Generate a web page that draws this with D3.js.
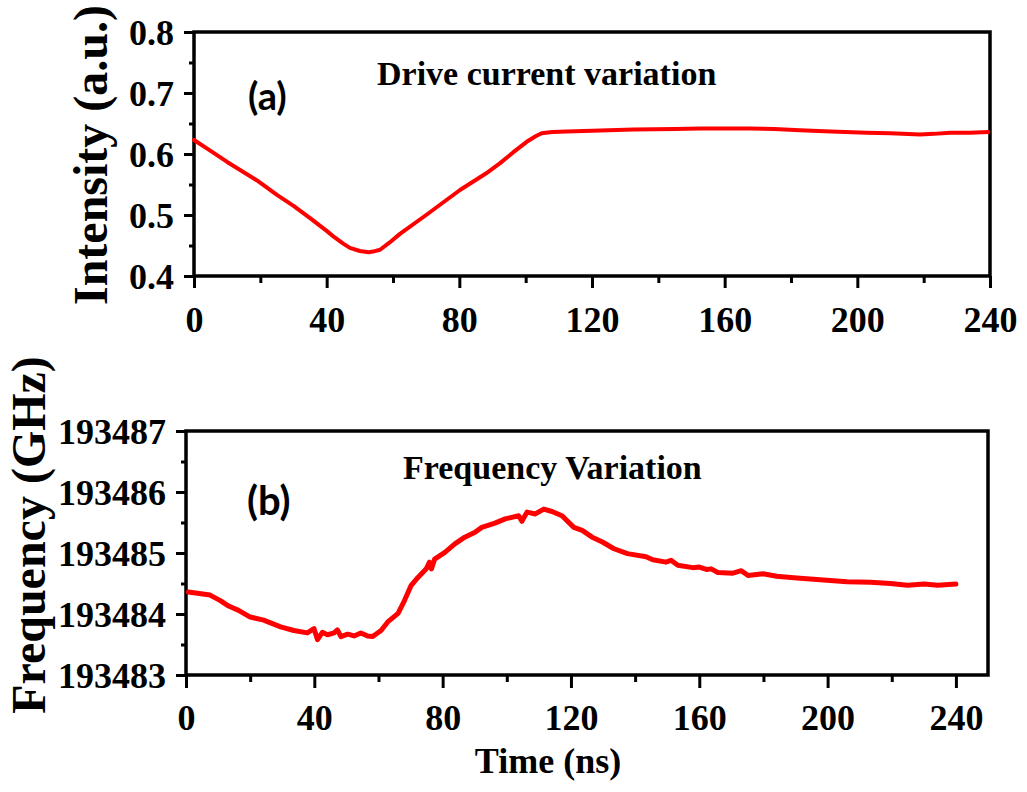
<!DOCTYPE html>
<html><head><meta charset="utf-8">
<script src="https://cdn.jsdelivr.net/npm/d3@7"></script>
<style>body{margin:0;background:#fff}svg{display:block}</style>
</head><body>
<svg id="c" width="1027" height="792"></svg>
<script>
// Panel (a): intensity vs time
const intTime = [0,5,10,18.9,25,30,35,40,42,45,47,50,52.6,54,56.1,59,62.1,70,80.2,88,92.3,96.3,100.3,103,104.8,108,112.4,120,132.5,145,152.5,160,167.6,175,182.7,192,202.8,210,218.9,223,228,234,239.5];
const intValues = [0.623,0.605,0.587,0.557,0.533,0.515,0.495,0.474,0.465,0.453,0.446,0.441,0.439,0.440,0.443,0.455,0.469,0.500,0.541,0.568,0.585,0.603,0.620,0.629,0.634,0.636,0.637,0.638,0.640,0.641,0.642,0.642,0.642,0.641,0.639,0.637,0.635,0.634,0.632,0.633,0.635,0.635,0.636];
const intXTicks = [0,40,80,120,160,200,240];
const intYTicks = [0.4,0.5,0.6,0.7,0.8];

// Panel (b): frequency vs time
const freqTime = [0.7,7.5,10.7,13.3,16.4,20,24.2,29.5,33.6,37.8,39.9,41,42.5,44.1,46.2,47.2,48.3,50.4,52.4,54.5,56.6,58.2,60.8,62.9,66.1,68.1,70.2,72.3,74.9,75.9,76.5,77.5,80.7,83.8,86.9,90.1,92.2,96.3,99.5,103.7,104.7,106.3,108.9,111.5,114.1,117.2,120.9,123.5,126.6,129.8,133.4,137.6,143.4,145.5,149.6,151.2,153.3,158,160,162.2,163.7,165.8,170.5,173.1,175.2,179.9,184.1,190.4,195.6,200.8,206,213.4,219.6,224.9,230.1,234.3,240];
const freqValues = [193484.36,193484.31,193484.22,193484.13,193484.06,193483.95,193483.90,193483.79,193483.73,193483.69,193483.76,193483.58,193483.70,193483.66,193483.69,193483.74,193483.63,193483.67,193483.64,193483.69,193483.64,193483.63,193483.73,193483.87,193484.01,193484.22,193484.47,193484.60,193484.74,193484.85,193484.74,193484.90,193485.01,193485.15,193485.26,193485.34,193485.42,193485.49,193485.56,193485.61,193485.52,193485.67,193485.64,193485.72,193485.68,193485.61,193485.42,193485.37,193485.26,193485.18,193485.07,193484.99,193484.94,193484.89,193484.85,193484.88,193484.80,193484.76,193484.77,193484.73,193484.74,193484.68,193484.67,193484.71,193484.63,193484.66,193484.62,193484.59,193484.57,193484.55,193484.53,193484.52,193484.50,193484.47,193484.49,193484.47,193484.49];
const freqXTicks = [0,40,80,120,160,200,240];
const freqYTicks = [193483,193484,193485,193486,193487];

const svg = d3.select("#c");
const SERIF = "'Liberation Serif','Times New Roman',serif";

function panel(o){
  const x = d3.scaleLinear().domain(o.xDomain).range([o.left, o.right]);
  const y = d3.scaleLinear().domain(o.yDomain).range([o.bottom, o.top]);
  const g = svg.append("g");
  // minor x ticks
  g.append("g").attr("transform",`translate(0,${o.bottom})`)
    .call(d3.axisBottom(x).tickValues(o.xMinor).tickSize(o.minorLen).tickFormat(""))
    .call(a=>{a.select(".domain").remove(); a.selectAll("line").attr("stroke","#000").attr("stroke-width",3);});
  // major x ticks
  g.append("g").attr("transform",`translate(0,${o.bottom})`)
    .call(d3.axisBottom(x).tickValues(o.xTicks).tickSize(o.majorLen).tickFormat(d3.format("d")))
    .call(a=>{a.select(".domain").remove();
      a.selectAll("line").attr("stroke","#000").attr("stroke-width",3);
      a.selectAll("text").attr("y",o.xLabelOff).attr("dy",null)
        .attr("font-family",SERIF).attr("font-weight","bold").attr("font-size",36).attr("fill","#000");});
  // minor y ticks
  g.append("g").attr("transform",`translate(${o.left},0)`)
    .call(d3.axisLeft(y).tickValues(o.yMinor).tickSize(o.yMinorLen).tickFormat(""))
    .call(a=>{a.select(".domain").remove(); a.selectAll("line").attr("stroke","#000").attr("stroke-width",3);});
  // major y ticks
  g.append("g").attr("transform",`translate(${o.left},0)`)
    .call(d3.axisLeft(y).tickValues(o.yTicks).tickSize(o.yMajorLen).tickFormat(o.yFmt))
    .call(a=>{a.select(".domain").remove();
      a.selectAll("line").attr("stroke","#000").attr("stroke-width",3);
      a.selectAll("text").attr("x",-20).attr("dy","0.35em")
        .attr("font-family",SERIF).attr("font-weight","bold").attr("font-size",36).attr("fill","#000");});
  // frame
  g.append("rect").attr("x",o.left).attr("y",o.top).attr("width",o.right-o.left).attr("height",o.bottom-o.top)
    .attr("fill","none").attr("stroke","#000").attr("stroke-width",3.5);
  // data line
  const line = d3.line().x((d,i)=>x(o.xs[i])).y((d,i)=>y(o.ys[i]));
  g.append("path").datum(o.ys).attr("d",line).attr("fill","none").attr("stroke","#ff0000")
    .attr("stroke-width",o.lw).attr("stroke-linejoin","round").attr("stroke-linecap","round");
  return {x,y};
}

panel({xDomain:[0,240], yDomain:[0.4,0.8], left:194, right:990, top:32, bottom:276,
  xTicks:intXTicks, xMinor:[20,60,100,140,180,220], yTicks:intYTicks, yMinor:[0.45,0.55,0.65,0.75],
  majorLen:12, minorLen:7, yMajorLen:10, yMinorLen:5, xLabelOff:56, yFmt:d3.format(".1f"),
  xs:intTime, ys:intValues, lw:4});

panel({xDomain:[0,250], yDomain:[193483,193487], left:186, right:988, top:431, bottom:675,
  xTicks:freqXTicks, xMinor:[20,60,100,140,180,220], yTicks:freqYTicks, yMinor:[193483.5,193484.5,193485.5,193486.5],
  majorLen:13, minorLen:7, yMajorLen:10, yMinorLen:5, xLabelOff:55, yFmt:d3.format("d"),
  xs:freqTime, ys:freqValues, lw:5});

// axis titles
svg.append("text").attr("transform","translate(107,155) rotate(-90)").attr("text-anchor","middle")
  .attr("font-family",SERIF).attr("font-weight","bold").attr("font-size",48).text("Intensity (a.u.)");
svg.append("text").attr("transform","translate(45,535) rotate(-90)").attr("text-anchor","middle")
  .attr("font-family",SERIF).attr("font-weight","bold").attr("font-size",48).text("Frequency (GHz)");
svg.append("text").attr("x",548).attr("y",773).attr("text-anchor","middle")
  .attr("font-family",SERIF).attr("font-weight","bold").attr("font-size",36).text("Time (ns)");

// annotations
svg.append("text").attr("x",377).attr("y",85)
  .attr("font-family",SERIF).attr("font-weight","bold").attr("font-size",34).text("Drive current variation");
svg.append("text").attr("x",403).attr("y",479)
  .attr("font-family",SERIF).attr("font-weight","bold").attr("font-size",34).text("Frequency Variation");
svg.append("text").attr("x",248).attr("y",110)
  .attr("font-family","Lato,'Open Sans',sans-serif").attr("font-weight","bold").attr("font-size",38).text("(a)");
svg.append("text").attr("x",247).attr("y",515)
  .attr("font-family","Lato,'Open Sans',sans-serif").attr("font-weight","bold").attr("font-size",40).text("(b)");
</script>
</body></html>
